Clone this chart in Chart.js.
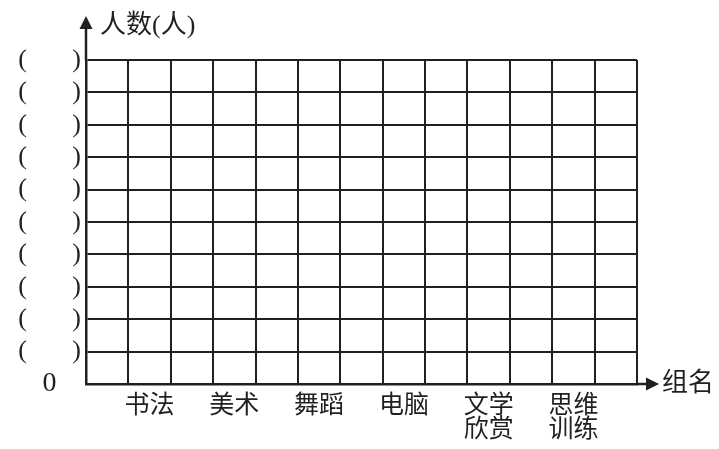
<!DOCTYPE html>
<html>
<head>
<meta charset="utf-8">
<script src="https://cdn.jsdelivr.net/npm/chart.js@4"></script>
<style>
  html, body { margin: 0; padding: 0; background: #fff; }
  #box { width: 719px; height: 449px; }
</style>
</head>
<body>
<div id="box"><canvas id="tongjiChart"></canvas></div>
<script>
// 组名（每组占两格，中间空一格）
const groups = [['书法'], ['美术'], ['舞蹈'], ['电脑'], ['文学', '欣赏'], ['思维', '训练']];
// 人数还没填，统计图是空白的
const counts = [null, null, null, null, null, null];
// 纵轴：10 格，每格刻度是一个待填的括号
const yMax = 10;
const yTickText = '(       )';
const zeroText = '0';
const xTitle = '组名';
const yTitle = '人数(人)';

const ink = '#231f20';
const font = "'Liberation Serif', 'Noto Sans CJK SC', serif";

// 13 个格子：空、书法、空、美术 ... 思维训练、空
const columns = [];
const columnValues = [];
groups.forEach((g, i) => {
  columns.push('');
  columnValues.push(null);
  columns.push(g);
  columnValues.push(counts[i]);
});
columns.push('');
columnValues.push(null);

// 画坐标轴箭头和轴名
const arrowPlugin = {
  id: 'arrows',
  afterDraw(chart) {
    const { ctx, chartArea: a } = chart;
    ctx.save();
    ctx.strokeStyle = ink;
    ctx.fillStyle = ink;
    ctx.lineWidth = 2.5;

    // 纵轴
    ctx.beginPath();
    ctx.moveTo(a.left, a.top);
    ctx.lineTo(a.left, 28);
    ctx.stroke();
    ctx.beginPath();
    ctx.moveTo(a.left, 16);
    ctx.lineTo(a.left - 6.5, 29);
    ctx.lineTo(a.left + 6.5, 29);
    ctx.closePath();
    ctx.fill();

    // 横轴
    ctx.beginPath();
    ctx.moveTo(a.right, a.bottom);
    ctx.lineTo(647, a.bottom);
    ctx.stroke();
    ctx.beginPath();
    ctx.moveTo(659, a.bottom);
    ctx.lineTo(646, a.bottom - 6.5);
    ctx.lineTo(646, a.bottom + 6.5);
    ctx.closePath();
    ctx.fill();

    ctx.font = '26px ' + font;
    ctx.textBaseline = 'middle';
    ctx.textAlign = 'left';
    ctx.fillText(yTitle, 100, 26);
    ctx.fillText(xTitle, 662, a.bottom);
    ctx.restore();
  }
};

const ctx = document.getElementById('tongjiChart').getContext('2d');
new Chart(ctx, {
  type: 'bar',
  data: {
    labels: columns,
    datasets: [{ data: columnValues, backgroundColor: ink }]
  },
  options: {
    responsive: true,
    maintainAspectRatio: false,
    animation: false,
    layout: { padding: { top: 60, right: 82, bottom: 0, left: 0 } },
    plugins: {
      legend: { display: false },
      tooltip: { enabled: false }
    },
    scales: {
      x: {
        offset: true,
        grid: { offset: true, color: ink, lineWidth: 2, drawTicks: false },
        border: { color: ink, width: 2.5 },
        ticks: {
          color: ink,
          padding: 10,
          autoSkip: false,
          maxRotation: 0,
          font: { family: font, size: 25, lineHeight: 0.96 }
        },
        afterFit(scale) { scale.height = 65; }
      },
      y: {
        min: 0,
        max: yMax,
        grid: { color: ink, lineWidth: 2, drawTicks: false },
        border: { color: ink, width: 2.5 },
        ticks: {
          stepSize: 1,
          autoSkip: false,
          color: ink,
          padding: 5,
          crossAlign: 'center',
          // “0”比括号大一号
          font: (c) => ({ family: font, size: c.tick && c.tick.value === 0 ? 28 : 26, lineHeight: 1 }),
          callback: (v) => (v === 0 ? zeroText : yTickText)
        },
        afterFit(scale) { scale.width = 86; }
      }
    }
  },
  plugins: [arrowPlugin]
});
</script>
</body>
</html>
